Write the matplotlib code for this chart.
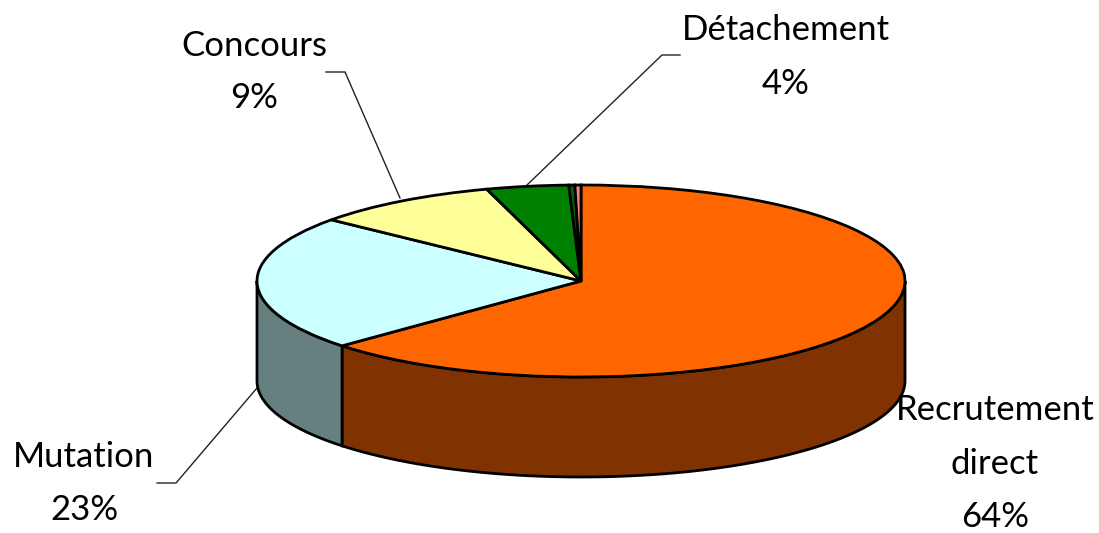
import numpy as np
import matplotlib
matplotlib.use('Agg')
import matplotlib.pyplot as plt

# slice values, percent (last two slices have no label in the picture)
values = [63.2, 22.8, 9.3, 4.1, 0.3, 0.3]
top_colors = ['#FF6600', '#CCFFFF', '#FFFF99', '#008000', '#006400', '#FF8080']
side_colors = ['#803300', '#668080', '#808050', '#004000', '#003200', '#804040']

# text labels: what, centre x, centre y in pixels from top left
labels = [('Concours', 254, 46), ('9%', 254, 98),
          ('Détachement', 786, 30), ('4%', 786, 84),
          ('Mutation', 84, 457), ('23%', 84, 510),
          ('Recrutement', 995, 410), ('direct', 995, 464), ('64%', 995, 517)]

# leader lines in pixels
leaders = [([326, 345, 400], [72, 72, 198]),
           ([680, 662, 527], [55, 55, 185]),
           ([157, 176, 257], [483, 483, 388])]

W, H = 1099, 533
cx, cy, rx, ry, depth = 581, 281, 324, 96, 100

plt.rcParams['font.family'] = ['Lato', 'DejaVu Sans']

fig = plt.figure(figsize=(W / 100, H / 100), dpi=100)
ax = fig.add_axes([0, 0, 1, 1])

# pie drawn in unit circle, the squashing comes from the axes limits
wedges, _ = ax.pie(values, colors=top_colors, startangle=90, counterclock=False,
                   radius=1, wedgeprops={'edgecolor': 'black', 'linewidth': 2, 'zorder': 3})
ax.set_aspect('auto')
ax.set_xlim(-cx / rx, (W - cx) / rx)
ax.set_ylim((cy - H) / ry, cy / ry)
ax.axis('off')


def px(x, y):
    return (x - cx) / rx, (cy - y) / ry


# side wall, only the front half is visible
d = depth / ry
start = 90.0
for v, c in zip(values, side_colors):
    end = start - v * 3.6
    a1, a2 = max(end, -180), min(start, 0)
    if a1 < a2:
        t = np.radians(np.linspace(a1, a2, 80))
        xs = np.concatenate([np.cos(t), np.cos(t)[::-1]])
        ys = np.concatenate([np.sin(t), np.sin(t)[::-1] - d])
        ax.fill(xs, ys, facecolor=c, edgecolor='black', linewidth=2, zorder=2)
    start = end

for xs, ys in leaders:
    p = [px(x, y) for x, y in zip(xs, ys)]
    ax.plot([q[0] for q in p], [q[1] for q in p], color='#222222', linewidth=1, zorder=1)

for txt, x, y in labels:
    qx, qy = px(x, y)
    ax.text(qx, qy, txt, ha='center', va='center', fontsize=25, color='black', zorder=5)

plt.savefig('out.png', dpi=100)
